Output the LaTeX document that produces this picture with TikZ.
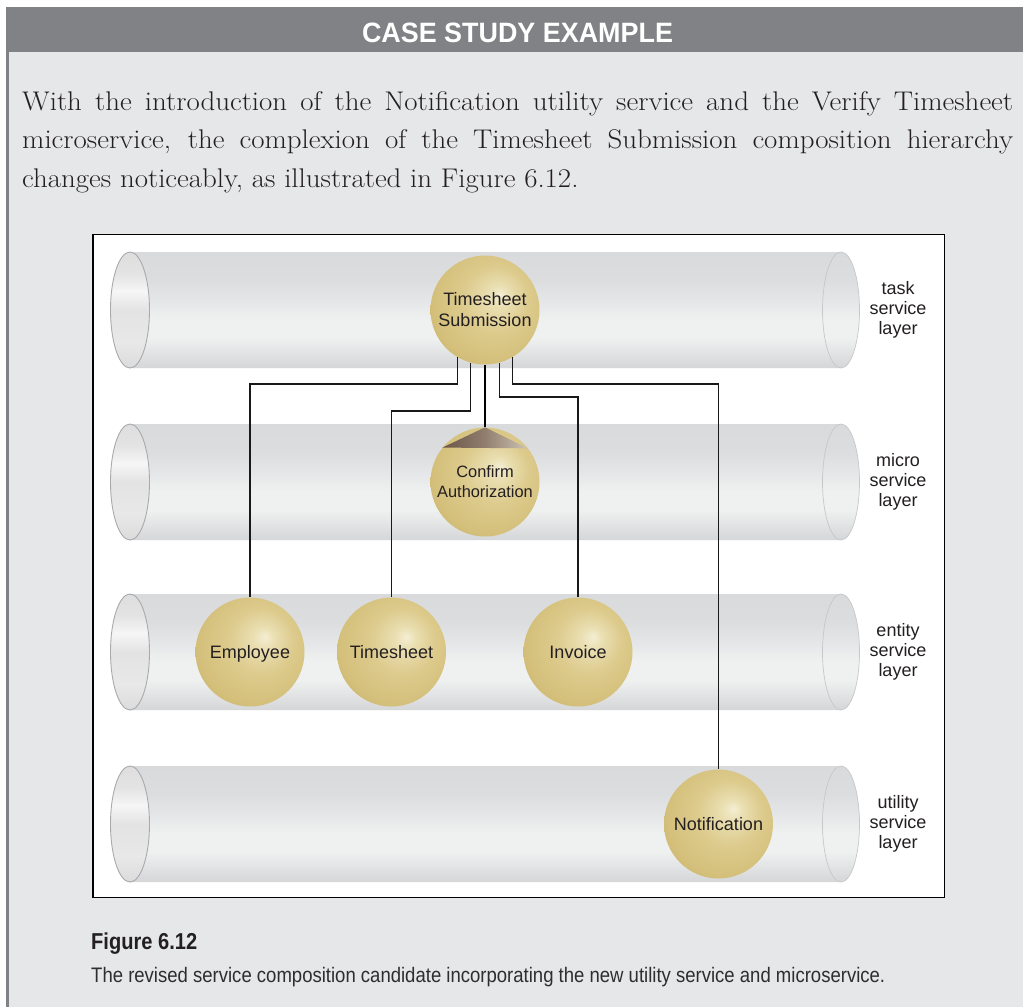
\documentclass[tikz,border=0pt]{standalone}
\usepackage{fontspec}
\usepackage{graphicx}
\newfontfamily\hsans{Liberation Sans}
\newfontfamily\parafont{Latin Modern Roman}[FakeStretch=1.07]
\definecolor{panel}{HTML}{E6E7E8}
\definecolor{hdr}{HTML}{808285}
\definecolor{ink}{HTML}{231F20}
\definecolor{capink}{HTML}{2E2E2E}
\definecolor{cb0}{HTML}{D5D6D8}
\definecolor{cb1}{HTML}{DFE0E1}
\definecolor{cb2}{HTML}{EFF0F0}
\definecolor{cb3}{HTML}{E5E6E7}
\definecolor{cb4}{HTML}{DCDDDF}
\definecolor{cb5}{HTML}{D9DADC}
\definecolor{ce0}{HTML}{DBDBDC}
\definecolor{ce1}{HTML}{E8E8E9}
\definecolor{ce2}{HTML}{E3E3E4}
\definecolor{ce3}{HTML}{F6F6F6}
\definecolor{ce4}{HTML}{DEDEDF}
\definecolor{capline}{HTML}{A9AAAD}
\definecolor{rimline}{HTML}{C6C7C9}
\definecolor{sph0}{HTML}{F4EED3}
\definecolor{sph1}{HTML}{EADFB2}
\definecolor{sph2}{HTML}{DDCB8D}
\definecolor{sph3}{HTML}{D4C07B}
\definecolor{sph4}{HTML}{C9B16B}
\definecolor{coneL}{HTML}{6B5749}
\definecolor{coneM}{HTML}{927E6E}
\definecolor{coneR}{HTML}{CDC6B6}
\pgfdeclareverticalshading{cylbody}{100bp}{color(0bp)=(cb0); color(25bp)=(cb0); color(30bp)=(cb1); color(38bp)=(cb2); color(46bp)=(cb2); color(54bp)=(cb3); color(63bp)=(cb4); color(75bp)=(cb5); color(100bp)=(cb5)}
\pgfdeclareverticalshading{cylend}{100bp}{color(0bp)=(ce0); color(25bp)=(ce0); color(36bp)=(ce1); color(50bp)=(ce2); color(58bp)=(ce3); color(66bp)=(ce2); color(75bp)=(ce4); color(100bp)=(ce4)}
\pgfdeclareradialshading{sphere}{\pgfpoint{7bp}{7bp}}{color(0bp)=(sph0); color(5bp)=(sph1); color(15bp)=(sph2); color(27bp)=(sph3); color(35bp)=(sph4); color(50bp)=(sph4)}
\tikzset{
  sph/.style={circle, minimum size=109pt, inner sep=0pt, shade, shading=sphere, text=ink, align=center, font=\hsans\fontsize{18}{21}\selectfont},
  sphone/.style={sph, text height=13pt, text depth=1pt},
  lbl/.style={align=center, text=ink, inner sep=0pt, font=\hsans\fontsize{18}{20}\selectfont},
  conn/.style={draw=black!90, line width=1.3pt},
  connmain/.style={draw=black, line width=2pt},
  para/.style={anchor=base west, inner sep=0pt, text=ink, font=\parafont\fontsize{27}{30}\selectfont},
}
\begin{document}
\begin{tikzpicture}[x=1pt,y=-1pt]
\useasboundingbox (0,0) rectangle (1023,1007);
\fill[white] (0,0) rectangle (1023,1007);
% panel
\fill[hdr] (6,7) rectangle (1023,52);
\fill[panel] (9,52) rectangle (1023,1007);
\fill[hdr] (6,52) rectangle (9,1007);
\node[anchor=base, inner sep=0pt, text=white] (head) at (517.5,42)
  {\resizebox{311pt}{\height}{\hsans\bfseries\fontsize{28}{30}\selectfont CASE STUDY EXAMPLE}};
% paragraph
\node[para] (p1) at (22,110) {\makebox[991pt][s]{With the introduction of the Notification utility service and the Verify Timesheet}};
\node[para] (p2) at (22,148.5) {\makebox[991pt][s]{microservice, the complexion of the Timesheet Submission composition hierarchy}};
\node[para] (p3) at (22,187) {changes noticeably, as illustrated in Figure 6.12.};
% frame
\draw[fill=white, line width=1.5pt] (93,234.5) rectangle (944.5,897.5);
% cylinders
\foreach \cy in {310,482,652,824}{
  \shade[shading=cylbody] (130,\cy-58) -- (841,\cy-58) arc[start angle=90, end angle=-90, x radius=18.5pt, y radius=58pt] -- (130,\cy+58) -- cycle;
  \draw[rimline, line width=0.7pt] (841,\cy) ellipse[x radius=18.5pt, y radius=58pt];
  \shade[shading=cylend, draw=capline, line width=0.9pt] (130,\cy) ellipse[x radius=19.5pt, y radius=58pt];
}
% layer labels
\node[lbl] (l1) at (898,310) {task\\service\\layer};
\node[lbl] (l2) at (898,482) {micro\\service\\layer};
\node[lbl] (l3) at (898,652) {entity\\service\\layer};
\node[lbl] (l4) at (898,824) {utility\\service\\layer};
% bend levels
\coordinate (bA) at (0,384);
\coordinate (bB) at (0,411);
\coordinate (bC) at (0,397);
% spheres
\node[sph] (ts) at (485,310) {Timesheet\\Submission};
\node[sph, font=\hsans\fontsize{16.4}{20}\selectfont] (ca) at (485,482) {Confirm\\Authorization};
\shade[left color=coneL, right color=coneR, middle color=coneM] (ca.north) -- (ca.141.4) -- (ca.38.6) -- cycle;
\node[sphone] (emp) at (250,652) {Employee};
\node[sphone] (tsh) at (391.5,652) {Timesheet};
\node[sphone] (inv) at (578,652) {Invoice};
\node[sphone] (notif) at (718.5,824) {Notification};
% connectors
\draw[conn] (ts.240) -- (ts.240 |- bA) -| (emp.north);
\draw[conn] (ts.255) -- (ts.255 |- bB) -| (tsh.north);
\draw[connmain] (ts.south) -- (ca.north);
\draw[conn] (ts.285) -- (ts.285 |- bC) -| (inv.north);
\draw[conn] (ts.300) -- (ts.300 |- bA) -| (notif.north);
% caption
\node[anchor=base west, inner sep=0pt, text=ink] (figlbl) at (91,949.5)
  {\resizebox{106pt}{\height}{\hsans\bfseries\fontsize{23}{26}\selectfont Figure 6.12}};
\node[anchor=base west, inner sep=0pt, text=capink] (figcap) at (91,982)
  {\resizebox{794pt}{\height}{\hsans\fontsize{21}{26}\selectfont The revised service composition candidate incorporating the new utility service and microservice.}};
\end{tikzpicture}
\end{document}
